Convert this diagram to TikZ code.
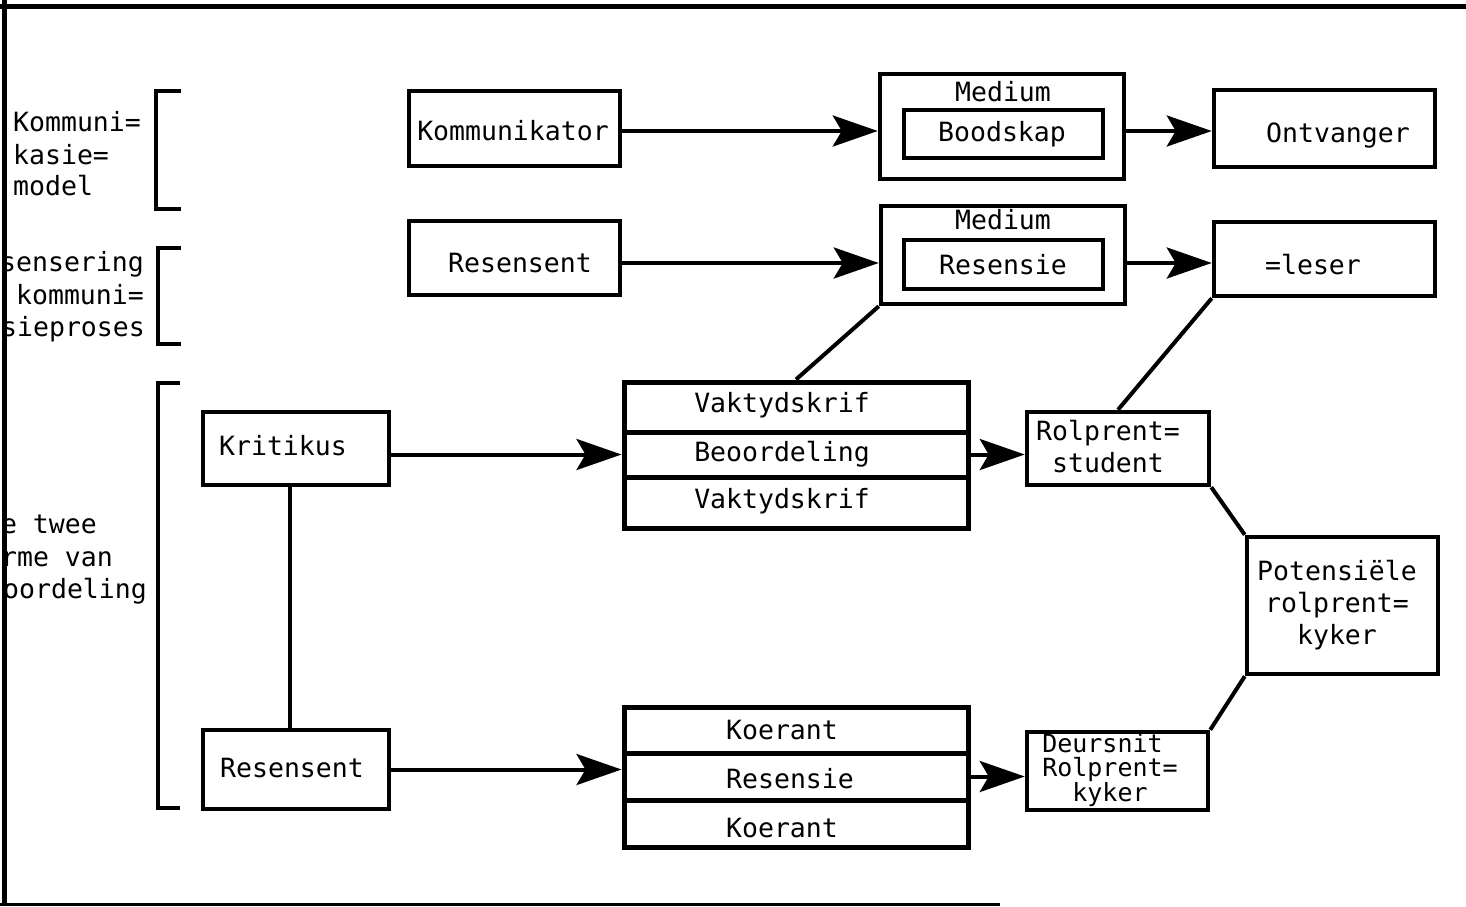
\documentclass[tikz,border=0pt]{standalone}
\usepackage{fontspec}
\newfontfamily\tw{DejaVu Sans Mono}
\usetikzlibrary{arrows.meta}
\begin{document}
\begin{tikzpicture}[x=1pt,y=-1pt,
  box/.style={draw, rectangle, line width=4.5pt, inner sep=0pt},
  txt/.style={inner sep=0pt, font=\tw\fontsize{26.5}{32}\selectfont, text height=19pt, text depth=0pt},
  mtxt/.style={inner sep=0pt, font=\tw\fontsize{26.5}{32}\selectfont, align=center},
  ln/.style={line width=4pt},
  arr/.style={ln, -{Stealth[length=45pt,width=31pt,inset=9pt]}},
  brk/.style={line width=4pt},
  frame/.style={line width=5pt}]
\useasboundingbox (0,0) rectangle (1466,906);

% ---- left labels (cut off at the left margin) ----
\begin{scope}
  \clip (2,0) rectangle (200,906);
  \node[txt, anchor=west] (l1a) at (13,122) {Kommuni=};
  \node[txt, anchor=west] (l1b) at (13,155) {kasie=};
  \node[txt, anchor=west] (l1c) at (13,186) {model};
  \node[txt, anchor=east] (l2a) at (144,262) {sensering};
  \node[txt, anchor=east] (l2b) at (144,295) {kommuni=};
  \node[txt, anchor=east] (l2c) at (145,327) {sieproses};
  \node[txt, anchor=east] (l3a) at (97,524) {e twee};
  \node[txt, anchor=east] (l3b) at (113,557) {rme van};
  \node[txt, anchor=east] (l3c) at (147,589) {eoordeling};
\end{scope}

% ---- brackets ----
\draw[brk] (181,91) -| (156,209) -- (181,209);
\draw[brk] (181,248) -| (158,344) -- (181,344);
\draw[brk] (180,383) -| (158,808) -- (180,808);

% ---- communication model ----
\node[box, minimum width=211pt, minimum height=75pt] (komm) at (514.5,128.5) {};
\node[txt] (kommT) at (513,131) {Kommunikator};
\node[box, minimum width=244pt, minimum height=105pt] (med1) at (1002,126.5) {};
\node[txt] (med1T) at (1003,92) {Medium};
\node[box, minimum width=199pt, minimum height=48pt] (bood) at (1003.5,134) {};
\node[txt] (boodT) at (1002,132) {Boodskap};
\node[box, minimum width=221pt, minimum height=77pt] (ont) at (1324.5,128.5) {};
\node[txt] (ontT) at (1338,133) {Ontvanger};
\coordinate (r1) at (0,131);
\draw[arr] (komm.east |- r1) -- (med1.west |- r1);
\draw[arr] (med1.east |- r1) -- (ont.west |- r1);

% ---- review as communication process ----
\node[box, minimum width=211pt, minimum height=74pt] (res1) at (514.5,258) {};
\node[txt] (res1T) at (520,263) {Resensent};
\node[box, minimum width=244pt, minimum height=98pt] (med2) at (1003,255) {};
\node[txt] (med2T) at (1003,220) {Medium};
\node[box, minimum width=199pt, minimum height=49pt] (resie) at (1003.5,264.5) {};
\node[txt] (resieT) at (1003,265) {Resensie};
\node[box, minimum width=221pt, minimum height=74pt] (les) at (1324.5,259) {};
\node[txt] (lesT) at (1313,265) {=leser};
\coordinate (r2) at (0,263);
\draw[arr] (res1.east |- r2) -- (med2.west |- r2);
\draw[arr] (med2.east |- r2) -- (les.west |- r2);

% ---- two forms of assessment ----
\node[box, minimum width=186pt, minimum height=73pt] (krit) at (296,448.5) {};
\node[txt] (kritT) at (283,446) {Kritikus};
\node[box, minimum width=186pt, minimum height=79pt] (res2) at (296,769.5) {};
\node[txt] (res2T) at (292,768) {Resensent};
\draw[ln] ([xshift=-6pt]krit.south) -- ([xshift=-6pt]res2.north);

% journal stack
\node[box, line width=5pt, minimum width=344pt, minimum height=50pt] (vt1) at (796,407) {};
\node[box, line width=5pt, minimum width=344pt, minimum height=45pt] (vb) at (796,454.5) {};
\node[box, line width=5pt, minimum width=344pt, minimum height=51pt] (vt2) at (796,502.5) {};
\node[txt] (vt1T) at (782,403) {Vaktydskrif};
\node[txt] (vbT) at (782,452) {Beoordeling};
\node[txt] (vt2T) at (782,499) {Vaktydskrif};

% newspaper stack
\node[box, line width=5pt, minimum width=344pt, minimum height=46pt] (kr1) at (796,730) {};
\node[box, line width=5pt, minimum width=344pt, minimum height=47pt] (kr) at (796,776.5) {};
\node[box, line width=5pt, minimum width=344pt, minimum height=47pt] (kr2) at (796,823.5) {};
\node[txt] (kr1T) at (782,730) {Koerant};
\node[txt] (krT) at (790,779) {Resensie};
\node[txt] (kr2T) at (782,828) {Koerant};

% readers
\node[box, minimum width=182pt, minimum height=73pt] (rol) at (1118,448.5) {};
\node[mtxt] (rolT) at (1108,446.5) {Rolprent=\\student};
\node[box, minimum width=191pt, minimum height=137pt] (pot) at (1342.5,605.5) {};
\node[mtxt] (potT) at (1337,605) {Potensiële\\rolprent=\\kyker};
\node[box, minimum width=181pt, minimum height=78pt] (deur) at (1117.5,771) {};
\node[inner sep=0pt, font=\tw\fontsize{25}{24}\selectfont, align=left] (deurT) at (1110,770)
  {Deursnit\\Rolprent=\\\phantom{Ro}kyker};

\draw[arr] (krit.east |- vb.west) -- (vb.west);
\draw[arr] (vb.east) -- (vb.east -| rol.west);
\draw[arr] (res2.east) -- (res2.east -| kr.west);
\draw[arr] (kr.east) -- (kr.east -| deur.west);

% links between the levels
\draw[ln] (med2.south west) -- (vt1.north);
\draw[ln] (les.south west) -- (rol.north);
\draw[ln] (rol.south east) -- (pot.north west);
\draw[ln] (pot.south west) -- (deur.north east);

% ---- page frame ----
\draw[frame] (0,6) -- (1466,6);
\draw[frame] (4.5,0) -- (4.5,906);
\draw[line width=3pt] (0,904) -- (1000,904);
\end{tikzpicture}
\end{document}
